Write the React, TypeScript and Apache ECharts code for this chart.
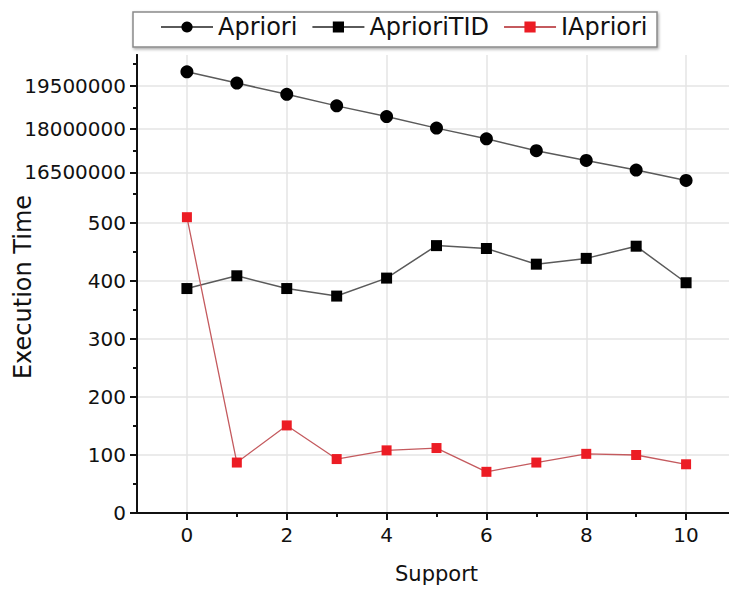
import React, { useEffect, useRef } from "react";
import * as echarts from "echarts";

const support = [0, 1, 2, 3, 4, 5, 6, 7, 8, 9, 10];
const aprioriTime = [19980000, 19590000, 19200000, 18800000, 18430000, 18030000, 17660000, 17250000, 16910000, 16580000, 16220000];
const aprioriTidTime = [387, 409, 387, 374, 405, 461, 456, 429, 439, 460, 397];
const iaprioriTime = [510, 87, 151, 93, 108, 112, 71, 87, 102, 100, 84];

const upperMajorTicks = [16500000, 18000000, 19500000];
const upperMinorTicks = [15750000, 17250000, 18750000, 20250000];
const lowerMajorTicks = [0, 100, 200, 300, 400, 500];
const lowerMinorTicks = [50, 150, 250, 350, 450, 550];
const xMajorTicks = [0, 2, 4, 6, 8, 10];
const xMinorTicks = [1, 3, 5, 7, 9];

const FONT = "DejaVu Sans";
const GRID_COLOR = "#e4e4e4";
const AXIS_COLOR = "#111";

export default function App() {
  const ref = useRef<HTMLDivElement>(null);
  useEffect(() => {
    if (!ref.current) return;
    const chart = echarts.init(ref.current, null, { renderer: "svg" });
    const pair = (ys: number[]) => support.map((x, i) => [x, ys[i]]);
    const xBase = { type: "value", min: -1, max: 11, interval: 1, position: "bottom" };
    const lineStyle = { color: AXIS_COLOR, width: 2 };
    const option: any = {
      animation: false,
      backgroundColor: "#ffffff",
      textStyle: { fontFamily: FONT, color: "#111" },
      grid: [
        { left: 137, top: 55, width: 599, height: 139, outerBoundsMode: "none", containLabel: false },
        { left: 137, top: 194, width: 599, height: 319, outerBoundsMode: "none", containLabel: false },
      ],
      graphic: [
        {
          type: "rect",
          z: 0,
          shape: { x: 133, y: 12, width: 524, height: 35 },
          style: {
            fill: "#fff",
            stroke: "#8a8a8a",
            lineWidth: 1.5,
            shadowBlur: 3,
            shadowOffsetX: 1,
            shadowOffsetY: 1.5,
            shadowColor: "rgba(0,0,0,0.35)",
          },
        },
        {
          type: "text",
          z: 10,
          x: 23,
          y: 287,
          rotation: Math.PI / 2,
          style: {
            text: "Execution Time",
            font: `24px "${FONT}"`,
            fill: "#111",
            align: "center",
            verticalAlign: "middle",
          },
        },
      ],
      legend: {
        left: 160,
        top: 15,
        padding: 0,
        itemWidth: 52,
        itemHeight: 14,
        itemGap: 14,
        textStyle: { fontFamily: FONT, fontSize: 24, color: "#111", padding: [0, 0, 0, 0] },
        data: ["Apriori", "AprioriTID", "IApriori"],
      },
      xAxis: [
        {
          ...xBase,
          gridIndex: 0,
          axisLine: { show: false, onZero: false },
          axisTick: { show: false, customValues: xMajorTicks },
          axisLabel: { show: false, customValues: xMajorTicks },
          splitLine: { show: true, lineStyle: { color: GRID_COLOR, width: 1.5 } },
        },
        {
          ...xBase,
          gridIndex: 1,
          name: "Support",
          nameLocation: "middle",
          nameGap: 50,
          nameTextStyle: { fontFamily: FONT, fontSize: 21, color: "#111" },
          axisLine: { show: true, onZero: false, lineStyle },
          axisTick: { show: true, customValues: xMajorTicks, length: 7, lineStyle },
          axisLabel: {
            show: true,
            customValues: xMajorTicks,
            margin: 12,
            fontFamily: FONT,
            fontSize: 20,
            color: "#111",
            formatter: (v: number) => String(v),
          },
          splitLine: { show: true, lineStyle: { color: GRID_COLOR, width: 1.5 } },
        },
        {
          ...xBase,
          gridIndex: 1,
          axisLine: { show: false, onZero: false },
          axisTick: { show: true, customValues: xMinorTicks, length: 4, lineStyle },
          axisLabel: { show: false },
          splitLine: { show: false },
        },
      ],
      yAxis: [
        {
          type: "value",
          gridIndex: 0,
          position: "left",
          min: 15750000,
          max: 20560000,
          interval: 750000,
          axisLine: { show: true, onZero: false, lineStyle },
          axisTick: { show: true, customValues: upperMajorTicks, length: 7, lineStyle },
          axisLabel: {
            show: true,
            customValues: upperMajorTicks,
            margin: 11,
            fontFamily: FONT,
            fontSize: 20,
            color: "#111",
            formatter: (v: number) => String(v),
          },
          splitLine: { show: true, lineStyle: { color: GRID_COLOR, width: 1.5 } },
        },
        {
          type: "value",
          gridIndex: 0,
          position: "left",
          min: 15750000,
          max: 20560000,
          interval: 750000,
          axisLine: { show: true, onZero: false, lineStyle },
          axisTick: { show: true, customValues: upperMinorTicks, length: 4, lineStyle },
          axisLabel: { show: false },
          splitLine: { show: false },
        },
        {
          type: "value",
          gridIndex: 1,
          position: "left",
          min: 0,
          max: 550,
          interval: 50,
          axisLine: { show: true, onZero: false, lineStyle },
          axisTick: { show: true, customValues: lowerMajorTicks, length: 7, lineStyle },
          axisLabel: {
            show: true,
            customValues: lowerMajorTicks,
            margin: 11,
            fontFamily: FONT,
            fontSize: 20,
            color: "#111",
            formatter: (v: number) => String(v),
          },
          splitLine: { show: true, lineStyle: { color: GRID_COLOR, width: 1.5 } },
        },
        {
          type: "value",
          gridIndex: 1,
          position: "left",
          min: 0,
          max: 550,
          interval: 50,
          axisLine: { show: true, onZero: false, lineStyle },
          axisTick: { show: true, customValues: lowerMinorTicks, length: 4, lineStyle },
          axisLabel: { show: false },
          splitLine: { show: false },
        },
      ],
      series: [
        {
          name: "Apriori",
          type: "line",
          xAxisIndex: 0,
          yAxisIndex: 0,
          data: pair(aprioriTime),
          symbol: "circle",
          symbolSize: 13,
          itemStyle: { color: "#000" },
          lineStyle: { color: "#5a5a5a", width: 1.5 },
          z: 5,
        },
        {
          name: "AprioriTID",
          type: "line",
          xAxisIndex: 1,
          yAxisIndex: 2,
          data: pair(aprioriTidTime),
          symbol: "rect",
          symbolSize: 11,
          itemStyle: { color: "#000" },
          lineStyle: { color: "#5a5a5a", width: 1.5 },
          z: 5,
        },
        {
          name: "IApriori",
          type: "line",
          xAxisIndex: 1,
          yAxisIndex: 2,
          data: pair(iaprioriTime),
          symbol: "rect",
          symbolSize: 10,
          itemStyle: { color: "#ec1c24" },
          lineStyle: { color: "#c45a5e", width: 1.3 },
          z: 6,
        },
      ],
    };
    chart.setOption(option);
    return () => chart.dispose();
  }, []);
  return (
    <div
      ref={ref}
      style={{ position: "absolute", left: 0, top: 0, width: 729, height: 590, background: "#fff" }}
    />
  );
}
